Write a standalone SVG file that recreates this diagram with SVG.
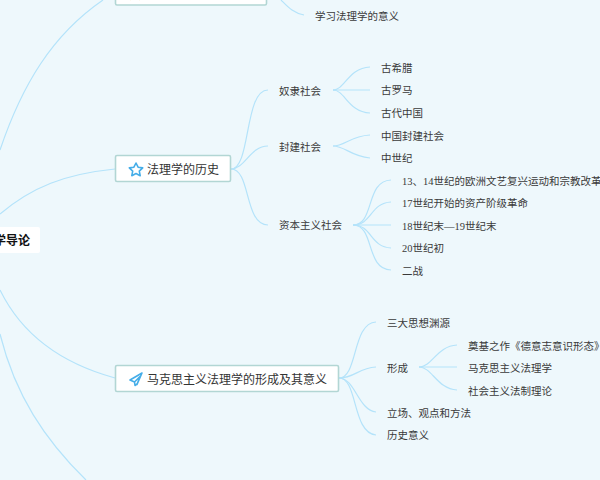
<svg xmlns="http://www.w3.org/2000/svg" width="600" height="480" viewBox="0 0 600 480">
<style>
text{font-family:"Liberation Serif","Noto Sans CJK SC",serif;fill:#3a3a3a}
.l{font-size:10.5px}
.m{font-size:12px;fill:#333}
.r{font-size:12px;font-weight:700;fill:#111;font-family:"Noto Sans CJK SC",sans-serif}
.box{fill:#fff;stroke:#b2d6d4;stroke-width:1.6}
#connectors path{fill:none;stroke:#b4e3fa;stroke-width:1.2}
.ic{fill:none;stroke:#45ade8;stroke-width:1.6;stroke-linejoin:round}
</style>
<rect width="600" height="480" fill="#eef8fc"/>
<g id="connectors">
<path d="M0 150C22 85 52 35 103 0"/>
<path d="M0 214C32 187 65 174 115 169"/>
<path d="M0 290C22 335 60 363 115 378"/>
<path d="M0 334C15 395 45 440 86 480"/>
<path d="M281 0C288 7 293 13 304 15"/>
<path d="M231 169C251 169 244 90 268 90"/>
<path d="M231 169C245 169 250 146 268 146"/>
<path d="M231 169C251 169 244 225 268 225"/>
<path d="M333 90C345 90 348 68 370 67"/>
<path d="M333 90H370"/>
<path d="M333 90C345 90 348 112 370 113"/>
<path d="M333 146C345 146 350 136 370 135"/>
<path d="M333 146C345 146 350 156 370 158"/>
<path d="M353 225C375 225 365 181 391 180"/>
<path d="M353 225C372 225 370 203 391 202"/>
<path d="M353 225H391"/>
<path d="M353 225C372 225 370 247 391 248"/>
<path d="M353 225C375 225 365 269 391 270"/>
<path d="M339 378C358 378 352 323 376 322"/>
<path d="M339 378C355 378 358 368 376 367"/>
<path d="M339 378C355 378 358 410 376 412"/>
<path d="M339 378C358 378 352 433 376 435"/>
<path d="M419 367C432 367 437 346 457 345"/>
<path d="M419 367H457"/>
<path d="M419 367C432 367 437 389 457 390"/>
</g>
<g id="root"><rect x="-10" y="227" width="50" height="26" rx="2" fill="#fff"/><text class="r" x="-6" y="245">学导论</text></g>
<g id="n-top"><rect class="box" x="115.500" y="-30" width="151" height="35" rx="1.500"/><path d="M130 0L135 -4L140 0" fill="none" stroke="#f5c76a"/></g>
<g id="n-history"><rect class="box" x="115.500" y="155.500" width="115" height="26" rx="1.500"/>
<path class="ic" d="M136 163L138.100 167.200L142.700 167.900L139.300 171.100L140.200 175.700L136 173.500L131.800 175.700L132.700 171.100L129.300 167.900L133.900 167.200Z"/>
<text class="m" x="147" y="174">法理学的历史</text></g>
<g id="n-marx"><rect class="box" x="115.500" y="365.500" width="223" height="26" rx="1.500"/>
<path class="ic" d="M142 373L130 380L134.500 382L140 376.500L137 384.500L142 373ZM134.500 382L135 385.500L137 384"/>
<text class="m" x="147" y="384">马克思主义法理学的形成及其意义</text></g>
<g id="leaf-texts">
<g id="t1"><text class="l" x="315" y="19.500">学习法理学的意义</text></g>
<g id="t2"><text class="l" x="279" y="94.500">奴隶社会</text></g>
<g id="t3"><text class="l" x="381" y="72">古希腊</text></g>
<g id="t4"><text class="l" x="381" y="94">古罗马</text></g>
<g id="t5"><text class="l" x="381" y="117">古代中国</text></g>
<g id="t6"><text class="l" x="279" y="150.500">封建社会</text></g>
<g id="t7"><text class="l" x="381" y="139.500">中国封建社会</text></g>
<g id="t8"><text class="l" x="381" y="162">中世纪</text></g>
<g id="t9"><text class="l" x="279" y="229">资本主义社会</text></g>
<g id="t10"><text class="l" x="402" y="184.500">13、14世纪的欧洲文艺复兴运动和宗教改革</text></g>
<g id="t11"><text class="l" x="402" y="207">17世纪开始的资产阶级革命</text></g>
<g id="t12"><text class="l" x="402" y="229.500">18世纪末—19世纪末</text></g>
<g id="t13"><text class="l" x="402" y="252">20世纪初</text></g>
<g id="t14"><text class="l" x="402" y="274.500">二战</text></g>
<g id="t15"><text class="l" x="387" y="327">三大思想渊源</text></g>
<g id="t16"><text class="l" x="387" y="372">形成</text></g>
<g id="t17"><text class="l" x="468" y="349.500">奠基之作《德意志意识形态》</text></g>
<g id="t18"><text class="l" x="468" y="372">马克思主义法理学</text></g>
<g id="t19"><text class="l" x="468" y="395">社会主义法制理论</text></g>
<g id="t20"><text class="l" x="387" y="417">立场、观点和方法</text></g>
<g id="t21"><text class="l" x="387" y="439">历史意义</text></g>
</g>
</svg>
